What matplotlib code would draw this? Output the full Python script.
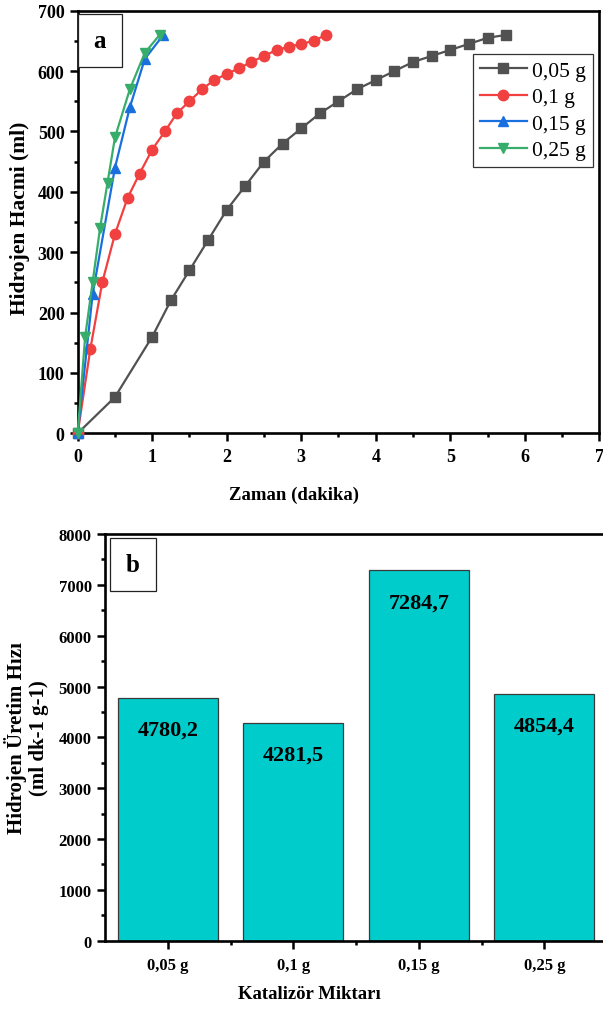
import matplotlib
matplotlib.use("Agg")
import matplotlib.pyplot as plt
from matplotlib.patches import Rectangle
from matplotlib.ticker import MultipleLocator, FixedLocator

plt.rcParams['font.family'] = ['Liberation Serif', 'DejaVu Serif']

# ---------------- data: panel a ----------------
labels_a = ["0,05 g", "0,1 g", "0,15 g", "0,25 g"]

t_005 = [0, 0.5, 1.0, 1.25, 1.5, 1.75, 2.0, 2.25, 2.5, 2.75, 3.0, 3.25, 3.5,
         3.75, 4.0, 4.25, 4.5, 4.75, 5.0, 5.25, 5.5, 5.75]
v_005 = [0, 60, 160, 220, 270, 320, 370, 410, 450, 480, 505, 530, 550,
         570, 585, 600, 615, 625, 635, 645, 655, 660]

t_01 = [0, 0.17, 0.33, 0.5, 0.67, 0.83, 1.0, 1.17, 1.33, 1.5, 1.67, 1.83,
        2.0, 2.17, 2.33, 2.5, 2.67, 2.83, 3.0, 3.17, 3.33]
v_01 = [0, 140, 250, 330, 390, 430, 470, 500, 530, 550, 570, 585,
        595, 605, 615, 625, 635, 640, 645, 650, 660]

t_015 = [0, 0.2, 0.5, 0.7, 0.9, 1.15]
v_015 = [0, 230, 440, 540, 620, 660]

t_025 = [0, 0.1, 0.2, 0.3, 0.4, 0.5, 0.7, 0.9, 1.1]
v_025 = [0, 160, 250, 340, 415, 490, 570, 630, 660]

# ---------------- data: panel b ----------------
categories_b = ["0,05 g", "0,1 g", "0,15 g", "0,25 g"]
rates_b = [4780.2, 4281.5, 7284.7, 4854.4]
rate_texts_b = ["4780,2", "4281,5", "7284,7", "4854,4"]

colors = ["#515151", "#F14040", "#1A6FDF", "#37AD6B"]
markers = ["s", "o", "^", "v"]
msizes = [6.5, 7.5, 7.5, 7.5]

W, H = 603, 1012
fig = plt.figure(figsize=(W / 100, H / 100), dpi=100)

def frac(x0, y0, x1, y1):
    return [x0 / W, 1 - y1 / H, (x1 - x0) / W, (y1 - y0) / H]

spine_w = 1.9

# ---------------- panel a ----------------
ax1 = fig.add_axes(frac(77.7, 11.7, 599.3, 434.3))
series = [(t_005, v_005), (t_01, v_01), (t_015, v_015), (t_025, v_025)]
for i, ((t, v), lab) in enumerate(zip(series, labels_a)):
    ax1.plot(t, v, color=colors[i], marker=markers[i], markersize=msizes[i],
             linewidth=1.6, label=lab, zorder=3 + i, clip_on=False)

ax1.set_xlim(0, 7)
ax1.set_ylim(0, 700)
ax1.xaxis.set_major_locator(MultipleLocator(1))
ax1.xaxis.set_minor_locator(MultipleLocator(0.5))
ax1.yaxis.set_major_locator(MultipleLocator(100))
ax1.yaxis.set_minor_locator(MultipleLocator(50))
for s in ax1.spines.values():
    s.set_linewidth(spine_w)
ax1.tick_params(which='both', direction='out', top=False, right=False, width=1.8)
ax1.tick_params(which='major', length=5.5)
ax1.tick_params(which='minor', length=3)
ax1.tick_params(axis='y', pad=4)
ax1.tick_params(axis='x', pad=5)
for lbl in ax1.get_xticklabels() + ax1.get_yticklabels():
    lbl.set_fontweight('bold')
    lbl.set_fontsize(13)

ax1.set_xlabel("Zaman (dakika)", fontsize=13.5, fontweight='bold')
ax1.xaxis.set_label_coords(0.415, -0.125)
ax1.set_ylabel("Hidrojen Hacmi (ml)", fontsize=15.5, fontweight='bold')
ax1.yaxis.set_label_coords(-0.092, 0.51)

leg = ax1.legend(loc='upper right', bbox_to_anchor=(0.9873, 0.8975),
                 borderaxespad=0, fontsize=15.5, handlelength=2.2,
                 handletextpad=0.25, labelspacing=0.3, borderpad=0.3,
                 fancybox=False, framealpha=1, edgecolor='#333333')
leg.get_frame().set_linewidth(0.9)

ax1.add_patch(Rectangle((0.0, 0.866), 0.0844, 0.126, transform=ax1.transAxes,
                        facecolor='white', edgecolor='#222222', linewidth=0.9,
                        zorder=10, clip_on=False))
ax1.text(0.0422, 0.929, "a", transform=ax1.transAxes, ha='center', va='center',
         fontsize=18, fontweight='bold', zorder=11)

# ---------------- panel b ----------------
ax2 = fig.add_axes(frac(105, 535, 607, 941.7))
xpos = list(range(1, len(categories_b) + 1))
bars = ax2.bar(xpos, rates_b, width=0.8, color="#00CCCC", edgecolor="#3a3a3a",
               linewidth=0.9, zorder=2)
for b, txt in zip(bars, rate_texts_b):
    ax2.annotate(txt, (b.get_x() + b.get_width() / 2, b.get_height()),
                 xytext=(0, -23), textcoords='offset points', ha='center',
                 va='center', fontsize=16, fontweight='bold', zorder=4)

ax2.set_xlim(0.5, 4.5)
ax2.set_ylim(0, 8000)
ax2.set_xticks(xpos)
ax2.set_xticklabels(categories_b)
ax2.xaxis.set_minor_locator(FixedLocator([1.5, 2.5, 3.5]))
ax2.yaxis.set_major_locator(MultipleLocator(1000))
ax2.yaxis.set_minor_locator(MultipleLocator(500))
for s in ax2.spines.values():
    s.set_linewidth(spine_w)
ax2.tick_params(which='both', direction='out', top=False, right=False, width=1.8)
ax2.tick_params(which='major', length=5.5)
ax2.tick_params(which='minor', length=3)
ax2.tick_params(axis='y', pad=4)
ax2.tick_params(axis='x', pad=6)
for lbl in ax2.get_xticklabels() + ax2.get_yticklabels():
    lbl.set_fontweight('bold')
    lbl.set_fontsize(12)

ax2.set_xlabel("Katalizör Miktarı", fontsize=13.5, fontweight='bold')
ax2.xaxis.set_label_coords(0.408, -0.11)
ax2.set_ylabel("Hidrojen Üretim Hızı\n(ml dk-1 g-1)", fontsize=15,
               fontweight='bold', linespacing=1.15)
ax2.yaxis.set_label_coords(-0.112, 0.5)

ax2.add_patch(Rectangle((0.01, 0.8606), 0.091, 0.1288, transform=ax2.transAxes,
                        facecolor='white', edgecolor='#222222', linewidth=0.9,
                        zorder=10))
ax2.text(0.0555, 0.925, "b", transform=ax2.transAxes, ha='center', va='center',
         fontsize=18, fontweight='bold', zorder=11)

fig.savefig("out.png", dpi=100)
